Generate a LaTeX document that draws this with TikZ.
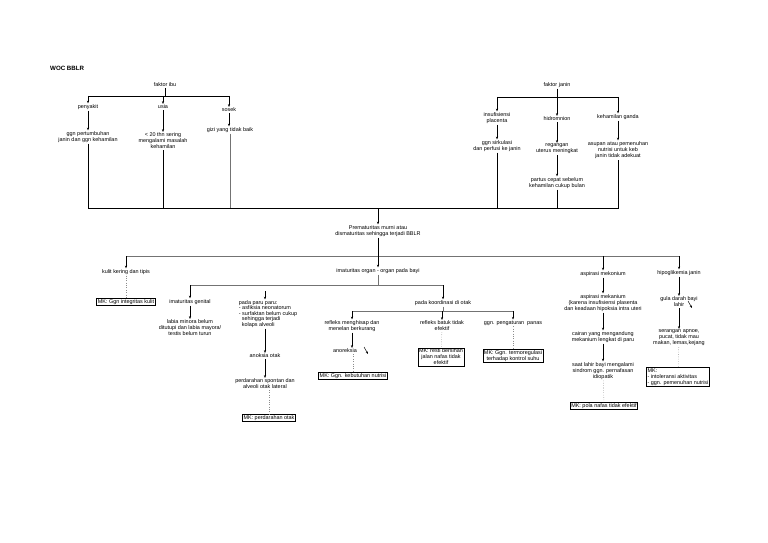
\documentclass[tikz,border=0pt]{standalone}
\usepackage{fontspec}
\setmainfont{Liberation Sans}
\usetikzlibrary{positioning, calc, arrows.meta}

\begin{document}
\begin{tikzpicture}[
  x=0.3867mm, y=-0.3867mm,
  txt/.style={inner sep=1pt, align=center, font=\fontsize{6}{6.6}\selectfont},
  mkbox/.style={draw=black, line width=0.8pt, fill=white, inner sep=1.2pt, align=center, font=\fontsize{6}{6.6}\selectfont},
  arr/.style={-{Stealth[length=3pt, width=2.4pt]}, line width=0.6pt},
  mainline/.style={line width=1pt},
  subline/.style={line width=0.6pt, black!55},
  dotline/.style={dotted, black!45, line width=0.6pt},
]
\useasboundingbox[fill=white] (0,0) rectangle (768,543);

\node[anchor=west, inner sep=0pt, font=\fontsize{6.8}{7}\selectfont\bfseries] (title) at (50,68) {WOC BBLR};

% faktor ibu
\node[txt] (fibu) at (165,85) {faktor ibu};
\coordinate (barIbu) at (165,96);
\node[txt] (penyakit) at (88,107) {penyakit};
\node[txt] (usia) at (163,107) {usia};
\node[txt] (sosek) at (229,110) {sosek};
\node[txt] (ggntumbuh) at (88,137) {ggn pertumbuhan\\janin dan ggn kehamilan};
\node[txt] (kurang20) at (163,141) {< 20 thn sering\\mengalami masalah\\kehamilan};
\node[txt] (gizi) at (230,130) {gizi yang tidak baik};

\draw[mainline] (fibu) -- (barIbu);
\draw[mainline] (penyakit.north |- barIbu) -- (sosek.north |- barIbu);
\draw[arr] (penyakit.north |- barIbu) -- (penyakit);
\draw[arr] (usia.north |- barIbu) -- (usia);
\draw[arr] (sosek.north |- barIbu) -- (sosek);
\draw[arr] (penyakit) -- (ggntumbuh);
\draw[arr] (usia) -- (kurang20);
\draw[arr] (sosek) -- (sosek |- gizi.north);

% faktor janin
\node[txt] (fjanin) at (557,85) {faktor janin};
\coordinate (barJanin) at (557,97);
\node[txt] (insuf) at (497,118) {insufisiensi\\placenta};
\node[txt] (hidro) at (557,119) {hidromnion};
\node[txt] (ganda) at (618,117) {kehamilan ganda};
\node[txt] (sirkulasi) at (497,146) {ggn sirkulasi\\dan perfusi ke janin};
\node[txt] (regangan) at (557,149) {regangan\\uterus meningkat};
\node[txt] (asupan) at (618,150) {asupan atau pemenuhan\\nutrisi untuk keb\\janin tidak adekuat};
\node[txt] (partus) at (557,183) {partus cepat sebelum\\kehamilan cukup bulan};

\draw[mainline] (fjanin) -- (barJanin);
\draw[mainline] (insuf.north |- barJanin) -- (ganda.north |- barJanin);
\draw[arr] (insuf.north |- barJanin) -- (insuf);
\draw[arr] (hidro.north |- barJanin) -- (hidro);
\draw[arr] (ganda.north |- barJanin) -- (ganda);
\draw[arr] (insuf) -- (sirkulasi);
\draw[arr] (hidro) -- (regangan);
\draw[arr] (ganda) -- (asupan);
\draw[arr] (regangan) -- (partus);

% garis bawah
\coordinate (barBawah) at (378,208);
\draw[mainline] (ggntumbuh.south) -- (ggntumbuh.south |- barBawah) -- (asupan.south |- barBawah) -- (asupan.south);
\draw[mainline] (kurang20.south) -- (kurang20.south |- barBawah);
\draw[subline] (gizi.south) -- (gizi.south |- barBawah);
\draw[mainline] (sirkulasi.south) -- (sirkulasi.south |- barBawah);
\draw[mainline] (partus.south) -- (partus.south |- barBawah);

\node[txt] (premat) at (378,231) {Prematuritas murni atau\\dismaturitas sehingga terjadi BBLR};
\draw[arr] (premat.north |- barBawah) -- (premat);

% cabang BBLR
\coordinate (barOrgan) at (378,256);
\node[txt] (kulit) at (126,272) {kulit kering dan tipis};
\node[txt] (imat) at (378,271) {imaturitas organ - organ pada bayi};
\node[txt] (aspmek) at (603,274) {aspirasi mekonium};
\node[txt] (hipo) at (679,273) {hipoglikemia janin};

\draw[subline] (kulit.north |- barOrgan) -- (hipo.north |- barOrgan);
\draw[arr] (premat) -- (imat);
\draw[arr] (kulit.north |- barOrgan) -- (kulit);
\draw[arr] (aspmek.north |- barOrgan) -- (aspmek);
\draw[arr] (hipo.north |- barOrgan) -- (hipo);

\node[mkbox] (mkkulit) at (126,302) {MK: Ggn integritas kulit};
\draw[dotline] (kulit) -- (mkkulit);

% imaturitas organ
\coordinate (barImat) at (378,285);
\node[txt] (genital) at (190,302) {imaturitas genital};
\node[txt] (labia) at (190,328) {labia minora belum\\ditutupi dan labia mayora/\\testis belum turun};
\node[txt, align=left, font=\fontsize{6}{6}\selectfont] (paru) at (268,314) {pada paru paru:\\- asfiksia neonatorum\\- surfaktan belum cukup\\\ \ sehingga terjadi\\\ \ kolaps alveoli};
\node[txt] (anoksia) at (265,356) {anoksia otak};
\node[txt] (perdarahan) at (265,384) {perdarahan spontan dan\\alveoli otak lateral};
\node[mkbox] (mkperd) at (269,418) {MK: perdarahan otak};
\node[txt] (koord) at (443,303) {pada koordinasi di otak};

\draw[subline] (imat) -- (barImat);
\draw[subline] (genital.north |- barImat) -- (koord.north |- barImat);
\draw[arr] (genital.north |- barImat) -- (genital);
\draw[arr] (paru.north -| anoksia) ++(0,-8) -- (paru.north -| anoksia);
\draw[arr] (koord.north |- barImat) -- (koord);
\draw[arr] (genital) -- (labia);
\draw[arr] (paru.south -| anoksia) -- (anoksia);
\draw[arr] (anoksia) -- (perdarahan);
\draw[dotline] (perdarahan.south -| mkperd) -- (mkperd);

% koordinasi di otak
\coordinate (barKoord) at (443,311);
\node[txt] (menghisap) at (352,326) {refleks menghisap dan\\menelan berkurang};
\node[txt] (batuk) at (442,326) {refleks batuk tidak\\efektif};
\node[txt] (pengaturan) at (513,323) {ggn. pengaturan \ panas};
\node[txt] (anoreksia) at (345,351) {anoreksia};
\coordinate (anorTail) at (364,347);
\coordinate (anorTip) at (368,354);
\node[mkbox] (mknutrisi) at (353,376) {MK: Ggn. kebutuhan nutrisi};
\node[mkbox] (mkbatuk) at (441,357) {MK: resti bersihan\\jalan nafas tidak\\efektif};
\node[mkbox] (mksuhu) at (513,356) {MK: Ggn. termoregulasi\\terhadap kontrol suhu};

\draw[subline] (koord) -- (barKoord);
\draw[subline] (menghisap.north |- barKoord) -- (pengaturan.north |- barKoord);
\draw[arr] (menghisap.north |- barKoord) -- (menghisap);
\draw[arr] (batuk.north |- barKoord) -- (batuk);
\draw[arr] (pengaturan.north |- barKoord) -- (pengaturan);
\draw[arr] (menghisap) -- (menghisap |- anoreksia.north);
\draw[arr, line width=0.5pt] (anorTail) -- (anorTip);
\draw[dotline] (anoreksia.south -| mknutrisi) -- (mknutrisi);
\draw[dotline] (batuk) -- (mkbatuk);
\draw[dotline] (pengaturan) -- (mksuhu);

% aspirasi mekonium
\node[txt] (aspkarena) at (603,303) {aspirasi mekanium\\(karena insufisiensi plasenta\\dan keadaan hipoksia intra uteri};
\node[txt] (cairan) at (603,337) {cairan yang mengandung\\mekanium lengkat di paru};
\node[txt] (saatlahir) at (603,371) {saat lahir bayi mengalami\\sindrom ggn. pernafasan\\idiopatik};
\node[mkbox] (mkpola) at (604,406) {MK: pola nafas tidak efektif};

\draw[arr] (aspmek) -- (aspkarena);
\draw[arr] (aspkarena) -- (cairan);
\draw[arr] (cairan) -- (saatlahir);
\draw[dotline] (saatlahir) -- (mkpola);

% hipoglikemia
\node[txt] (gula) at (679,302) {gula darah bayi\\lahir};
\coordinate (gulaTail) at (688,301);
\coordinate (gulaTip) at (692,308);
\node[txt] (serangan) at (679,338) {serangan apnoe,\\pucat, tidak mau\\makan, lemas,kejang};
\node[mkbox, align=left] (mkhipo) at (678,377) {MK:\\- intoleransi aktivitas\\- ggn. pemenuhan nutrisi};

\draw[arr] (hipo) -- (gula);
\draw[arr, line width=0.5pt] (gulaTail) -- (gulaTip);
\draw[arr] (gula) -- (serangan);
\draw[dotline] (serangan) -- (mkhipo);

\end{tikzpicture}
\end{document}
